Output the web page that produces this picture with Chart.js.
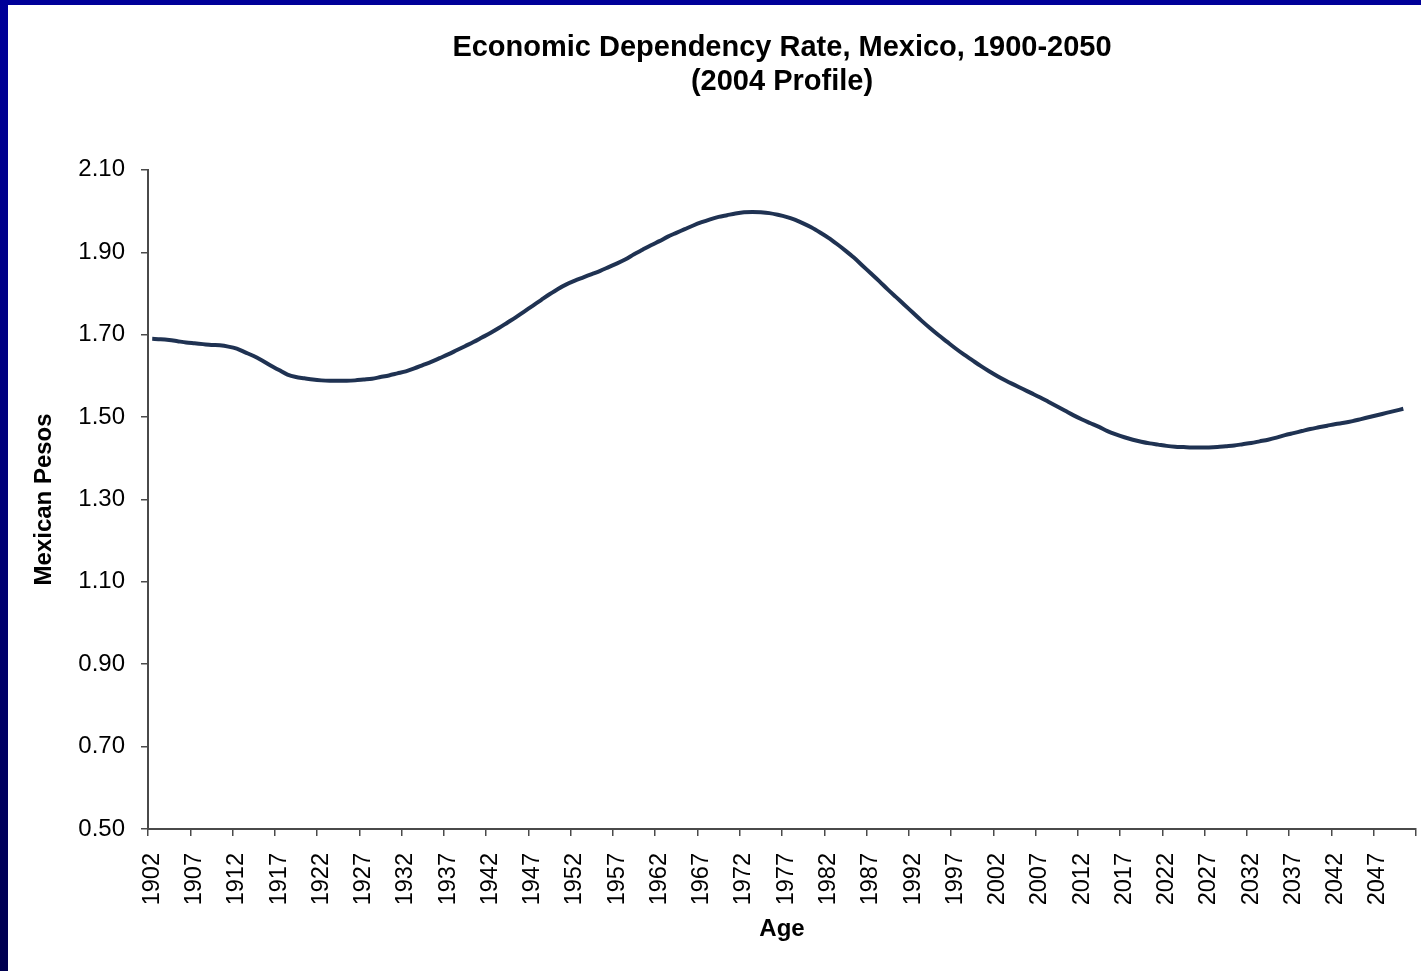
<!DOCTYPE html>
<html>
<head>
<meta charset="utf-8">
<script src="https://cdn.jsdelivr.net/npm/chart.js@4.4.1/dist/chart.umd.min.js"></script>
<style>
  html, body { margin: 0; padding: 0; width: 1421px; height: 971px; overflow: hidden;
    background: linear-gradient(to bottom, #000099 0%, #00007a 50%, #000050 100%); }
  #wrap { position: absolute; left: 8px; top: 5px; width: 1413px; height: 966px; background: #ffffff; }
</style>
</head>
<body>
<div id="wrap"><canvas id="c"></canvas></div>
<script>
// Categories: one slot per year on the axis (1902 ... 2051)
const years = [];
for (let y = 1902; y <= 2051; y++) years.push(String(y));

// Economic dependency rate (Mexican pesos), 1902-2050
const rate = [
  1.690,1.689,1.687,1.684,1.681,1.679,1.677,1.675,1.674,1.671, // 1902-1911
  1.666,1.657,1.648,1.637,1.625,1.614,1.603,1.597,1.594,1.591, // 1912-1921
  1.589,1.588,1.588,1.588,1.589,1.591,1.593,1.597,1.601,1.606, // 1922-1931
  1.611,1.618,1.626,1.634,1.643,1.652,1.662,1.672,1.682,1.693, // 1932-1941
  1.704,1.716,1.729,1.742,1.756,1.770,1.784,1.798,1.811,1.822, // 1942-1951
  1.831,1.839,1.847,1.855,1.864,1.873,1.883,1.895,1.906,1.917, // 1952-1961
  1.927,1.938,1.947,1.956,1.965,1.973,1.980,1.986,1.990,1.994, // 1962-1971
  1.997,1.998,1.997,1.995,1.991,1.986,1.979,1.970,1.960,1.948, // 1972-1981
  1.935,1.920,1.904,1.887,1.868,1.849,1.830,1.810,1.791,1.772, // 1982-1991
  1.753,1.734,1.716,1.699,1.683,1.667,1.652,1.638,1.624,1.611, // 1992-2001
  1.599,1.588,1.578,1.568,1.558,1.548,1.537,1.526,1.515,1.504, // 2002-2011
  1.494,1.485,1.476,1.466,1.458,1.451,1.445,1.440,1.436,1.433, // 2012-2021
  1.430,1.428,1.427,1.426,1.426,1.426,1.427,1.429,1.431,1.434, // 2022-2031
  1.437,1.441,1.445,1.450,1.456,1.461,1.466,1.471,1.475,1.479, // 2032-2041
  1.483,1.486,1.490,1.495,1.500,1.505,1.510,1.515,1.520        // 2042-2050
];

const yMin = 0.5, yMax = 2.1, yStep = 0.2;
const labelEvery = 5;
const titleLines = ['Economic Dependency Rate, Mexico, 1900-2050', '(2004 Profile)'];
const xTitle = 'Age';
const yTitle = 'Mexican Pesos';

const FONT = "'Liberation Sans', Arial, sans-serif";
const AXIS = '#4a4a4a';
Chart.defaults.color = '#000000';
Chart.defaults.font.family = FONT;

new Chart(document.getElementById('c'), {
  type: 'line',
  data: {
    labels: years,
    datasets: [{
      data: rate,
      borderColor: '#1f3252',
      borderWidth: 4,
      pointRadius: 0,
      pointHoverRadius: 0,
      tension: 0.3,
      fill: false
    }]
  },
  options: {
    responsive: true,
    maintainAspectRatio: false,
    animation: false,
    layout: { padding: { left: 0, right: 5, top: 0, bottom: 0 } },
    plugins: {
      legend: { display: false },
      tooltip: { enabled: false },
      title: {
        display: true,
        fullSize: false,
        text: titleLines,
        color: '#000000',
        font: { family: FONT, size: 29, weight: 'bold', lineHeight: 1.17 },
        padding: { top: 26, bottom: 71 }
      }
    },
    scales: {
      x: {
        type: 'category',
        offset: true,
        afterFit: (s) => { s.height = 142; s.paddingLeft = 0; s.paddingRight = 0; },
        grid: {
          offset: true,
          drawOnChartArea: false,
          drawTicks: true,
          tickLength: 7,
          lineWidth: 1.5,
          color: (c) => (c.type !== 'tick' || c.index % labelEvery === 0) ? AXIS : 'rgba(0,0,0,0)'
        },
        border: { display: true, color: AXIS, width: 2 },
        ticks: {
          autoSkip: false,
          minRotation: 90,
          maxRotation: 90,
          padding: 17,
          color: '#000000',
          font: { family: FONT, size: 23.5 },
          callback: function (v, i) { return i % labelEvery === 0 ? this.getLabelForValue(v) : ''; }
        },
        title: {
          display: true,
          text: xTitle,
          color: '#000000',
          font: { family: FONT, size: 24, weight: 'bold' },
          padding: { top: 0, bottom: 27 }
        }
      },
      y: {
        min: yMin,
        max: yMax,
        afterFit: (s) => { s.width = 140; },
        grid: {
          drawOnChartArea: false,
          drawTicks: true,
          tickLength: 7,
          lineWidth: 1.5,
          color: AXIS
        },
        border: { display: true, color: AXIS, width: 2 },
        ticks: {
          stepSize: yStep,
          padding: 16,
          color: '#000000',
          font: { family: FONT, size: 24 },
          callback: (v) => Number(v).toFixed(2)
        },
        title: {
          display: true,
          text: yTitle,
          color: '#000000',
          font: { family: FONT, size: 24, weight: 'bold' },
          padding: { top: 22, bottom: 0 }
        }
      }
    }
  }
});
</script>
</body>
</html>
